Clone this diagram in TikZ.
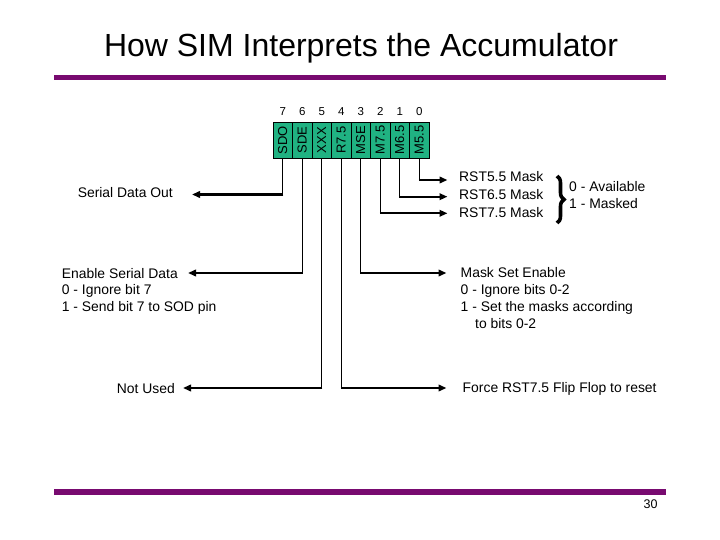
\documentclass[tikz,border=0pt]{standalone}
\usepackage{fontspec}
\setmainfont{Liberation Sans}
\usetikzlibrary{arrows.meta,decorations.pathreplacing}
\definecolor{slidepurple}{RGB}{120,10,112}
\definecolor{regreen}{RGB}{32,178,130}
\begin{document}
\begin{tikzpicture}[x=1pt,y=-1pt,
  cell/.style={draw=black, line width=0.8pt, fill=regreen, minimum width=19.5pt, minimum height=36.3pt, inner sep=0pt, font=\fontsize{13}{14}\selectfont},
  txt/.style={inner sep=0pt, font=\fontsize{13.9}{16}\selectfont},
  bitnum/.style={inner sep=0pt, anchor=base, font=\fontsize{11.5}{13}\selectfont},
  vline/.style={line width=1.1pt},
  harrow/.style={line width=2.2pt, -{Triangle[length=8pt,width=6.5pt]}},
  bar/.style={fill=slidepurple}]
\useasboundingbox (0,0) rectangle (720,540);
% title and bars
\node[anchor=base, inner sep=0pt, font=\fontsize{32}{38}\selectfont] (title) at (361,57) {How SIM Interprets the Accumulator};
\fill[bar] (54,74.7) rectangle (666,80.5);
\fill[bar] (54,489) rectangle (666,494.5);
\node[anchor=base, inner sep=0pt, font=\fontsize{12.5}{14}\selectfont] (page) at (650.5,508.5) {30};
% register cells
\node[cell] (b7) at (282.75,140.15) {\rotatebox{90}{SDO}};
\node[cell] (b6) at (302.25,140.15) {\rotatebox{90}{SDE}};
\node[cell] (b5) at (321.75,140.15) {\rotatebox{90}{XXX}};
\node[cell] (b4) at (341.25,140.15) {\rotatebox{90}{R7.5}};
\node[cell] (b3) at (360.75,140.15) {\rotatebox{90}{MSE}};
\node[cell] (b2) at (380.25,140.15) {\rotatebox{90}{M7.5}};
\node[cell] (b1) at (399.75,140.15) {\rotatebox{90}{M6.5}};
\node[cell] (b0) at (419.25,140.15) {\rotatebox{90}{M5.5}};
% bit numbers
\node[bitnum] (n7) at (282.75,115.5) {7};
\node[bitnum] (n6) at (302.25,115.5) {6};
\node[bitnum] (n5) at (321.75,115.5) {5};
\node[bitnum] (n4) at (341.25,115.5) {4};
\node[bitnum] (n3) at (360.75,115.5) {3};
\node[bitnum] (n2) at (380.25,115.5) {2};
\node[bitnum] (n1) at (399.75,115.5) {1};
\node[bitnum] (n0) at (419.25,115.5) {0};
% texts
\node[txt, anchor=base east] (sdo) at (173,197.5) {Serial Data Out};
\node[txt, anchor=base west] (esd) at (61.7,278) {Enable Serial Data};
\node[txt, anchor=base west] (esd0) at (61.7,294.5) {0 - Ignore bit 7};
\node[txt, anchor=base west] (esd1) at (61.7,311) {1 - Send bit 7 to SOD pin};
\node[txt, anchor=base east] (nu) at (175,393) {Not Used};
\node[txt, anchor=base west] (force) at (462.5,392) {Force RST7.5 Flip Flop to reset};
\node[txt, anchor=base west] (mse) at (460.5,277.5) {Mask Set Enable};
\node[txt, anchor=base west] (mse0) at (460.5,294.5) {0 - Ignore bits 0-2};
\node[txt, anchor=base west] (mse1) at (460.5,311) {1 - Set the masks according};
\node[txt, anchor=base west] (mse2) at (475,328) {to bits 0-2};
\node[txt, anchor=base west] (r55) at (459,181.5) {RST5.5 Mask};
\node[txt, anchor=base west] (r65) at (459,200) {RST6.5 Mask};
\node[txt, anchor=base west] (r75) at (459,218) {RST7.5 Mask};
\node[txt, anchor=base west] (avail) at (569,191.5) {0 - Available};
\node[txt, anchor=base west] (masked) at (569,208) {1 - Masked};
% corners
\coordinate (k7) at (282.75,194.5);
\coordinate (k6) at (302.25,273);
\coordinate (k5) at (321.75,388);
\coordinate (k4) at (341.25,388);
\coordinate (k3) at (360.75,273);
\coordinate (k2) at (380.25,213.3);
\coordinate (k1) at (399.75,196.7);
\coordinate (k0) at (419.25,180);
% connectors
\foreach \i in {0,...,7} {\draw[vline] (b\i.south) -- (k\i);}
\draw[harrow] ([xshift=0.5pt]k7) -- ([xshift=19pt]sdo.east |- k7);
\draw[harrow] ([xshift=0.5pt]k6) -- ([xshift=10pt]esd.east |- k6);
\draw[harrow] ([xshift=0.5pt]k5) -- ([xshift=8pt]nu.east |- k5);
\draw[harrow] ([xshift=-0.5pt]k4) -- ([xshift=-16pt]force.west |- k4);
\draw[harrow] ([xshift=-0.5pt]k3) -- ([xshift=-14pt]mse.west |- k3);
\draw[harrow] ([xshift=-0.5pt]k2) -- ([xshift=-11.5pt]r75.west |- k2);
\draw[harrow] ([xshift=-0.5pt]k1) -- ([xshift=-11.5pt]r65.west |- k1);
\draw[harrow] ([xshift=-0.5pt]k0) -- ([xshift=-11.5pt]r55.west |- k0);
% brace
\draw[decorate, decoration={brace, amplitude=7pt}, line width=3.6pt] (557,176) -- (557,223);
\end{tikzpicture}
\end{document}
